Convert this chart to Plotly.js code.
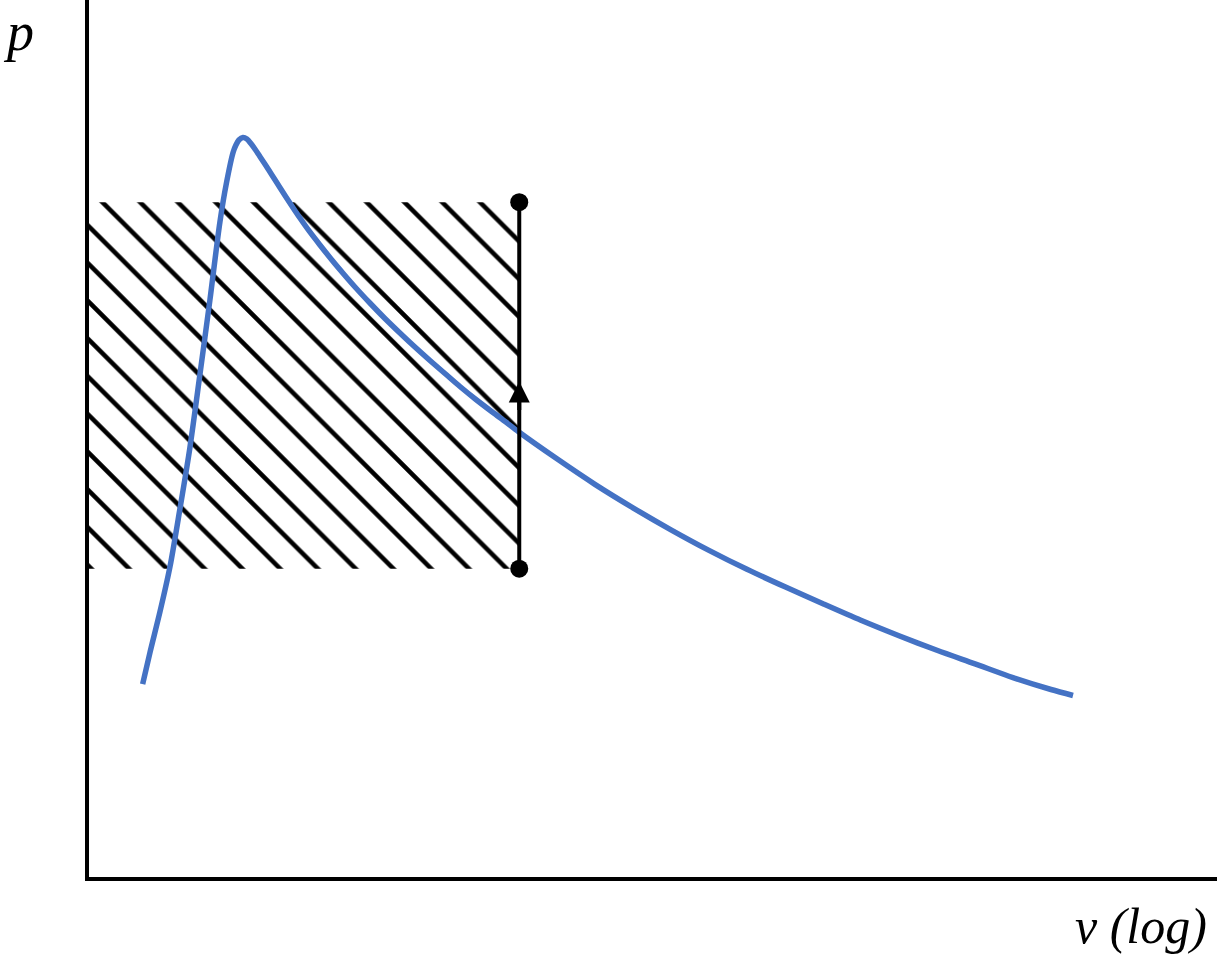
<!DOCTYPE html>
<html>
<head>
<meta charset="utf-8">
<script src="https://cdn.plot.ly/plotly-3.0.1.min.js"></script>
<style>
  html, body { margin: 0; padding: 0; background: #ffffff; }
  #chart { width: 1217px; height: 954px; }
</style>
</head>
<body>
<div id="chart"></div>
<script>
// Blue curve: specific volume (log scale) and pressure
const curveV = [1.398, 1.461, 1.554, 1.652, 1.756, 1.866, 1.984, 2.110, 2.243, 2.337,
                2.433, 2.474, 2.519, 2.582, 2.646, 2.711, 2.778, 2.864, 2.953, 3.083,
                3.237, 3.442, 3.660, 3.889, 4.136, 4.450, 4.769, 5.154, 5.615, 6.155,
                6.747, 7.396, 8.107, 8.886, 9.739, 10.74, 11.92, 12.90, 13.97, 17.63,
                22.24, 28.07, 35.42, 44.69, 56.38, 71.14, 89.76, 113.2, 142.9, 180.3,
                227.5, 287.0, 362.2, 414.4];
const curveP = [22.18, 25.71, 30.38, 35.49, 42.09, 49.03, 57.34, 65.87, 74.74, 79.29,
                82.71, 83.50, 84.07, 84.36, 84.19, 83.67, 83.05, 82.20, 81.34, 80.09,
                78.67, 76.91, 75.20, 73.61, 72.13, 70.42, 68.89, 67.24, 65.53, 63.77,
                62.12, 60.52, 58.99, 57.51, 56.03, 54.55, 53.07, 51.99, 50.85, 47.80,
                44.90, 42.23, 39.73, 37.39, 35.23, 33.24, 31.31, 29.43, 27.67, 26.02,
                24.48, 22.92, 21.56, 20.88];

// Hatched region (v from the p axis to the process line, p between the two states)
const hatchV = [1, 14.0];
const hatchP = [35.3, 77.0];

// Vertical (constant-volume) process: start and end states
const processV = [14.0, 14.0];
const processP = [35.3, 77.0];
const arrowP = 56.6;

const axisLabelX = 'v (log)';
const axisLabelY = 'p';

const blue = '#4472C4';

const traces = [
  {
    x: [hatchV[0], hatchV[1], hatchV[1], hatchV[0], hatchV[0]],
    y: [hatchP[0], hatchP[0], hatchP[1], hatchP[1], hatchP[0]],
    type: 'scatter',
    mode: 'lines',
    line: { width: 0, color: 'rgba(0,0,0,0)' },
    fill: 'toself',
    fillcolor: 'rgba(0,0,0,0)',
    fillpattern: { shape: '\\', fgcolor: '#000000', bgcolor: 'rgba(0,0,0,0)', size: 26.7, solidity: 0.17 },
    hoverinfo: 'skip',
    showlegend: false
  },
  {
    x: curveV,
    y: curveP,
    type: 'scatter',
    mode: 'lines',
    line: { color: blue, width: 5.5, shape: 'spline', smoothing: 0.8 },
    showlegend: false
  },
  {
    x: processV,
    y: processP,
    type: 'scatter',
    mode: 'lines+markers',
    line: { color: '#000000', width: 4 },
    marker: { color: '#000000', size: 18 },
    showlegend: false
  }
];

const layout = {
  width: 1217,
  height: 954,
  margin: { l: 89, r: 0, t: 0, b: 77, pad: 0 },
  paper_bgcolor: '#ffffff',
  plot_bgcolor: '#ffffff',
  showlegend: false,
  xaxis: {
    type: 'log',
    range: [0.003, 3],
    showline: true, linecolor: '#000000', linewidth: 4,
    showgrid: false, zeroline: false, showticklabels: false, ticks: '',
    fixedrange: true
  },
  yaxis: {
    range: [0.23, 100],
    showline: true, linecolor: '#000000', linewidth: 4,
    showgrid: false, zeroline: false, showticklabels: false, ticks: '',
    fixedrange: true
  },
  annotations: [
    {
      x: Math.log10(processV[0]), y: arrowP, xref: 'x', yref: 'y',
      ax: 0, ay: 30, axref: 'pixel', ayref: 'pixel',
      text: '', showarrow: true,
      arrowhead: 2, arrowsize: 1.05, arrowwidth: 4, arrowcolor: '#000000'
    },
    {
      text: axisLabelX, xref: 'paper', yref: 'paper',
      x: 1, y: -0.0555, xanchor: 'right', yanchor: 'middle', xshift: -8,
      showarrow: false,
      font: { family: 'Liberation Serif, serif', size: 50, style: 'italic', color: '#000000' }
    },
    {
      text: axisLabelY, xref: 'paper', yref: 'paper',
      x: -0.0789, y: 0.9635, xanchor: 'left', yanchor: 'middle', xshift: 1,
      showarrow: false,
      font: { family: 'Liberation Serif, serif', size: 54, style: 'italic', color: '#000000' }
    }
  ]
};

Plotly.newPlot('chart', traces, layout, { displayModeBar: false, staticPlot: true });
</script>
</body>
</html>
